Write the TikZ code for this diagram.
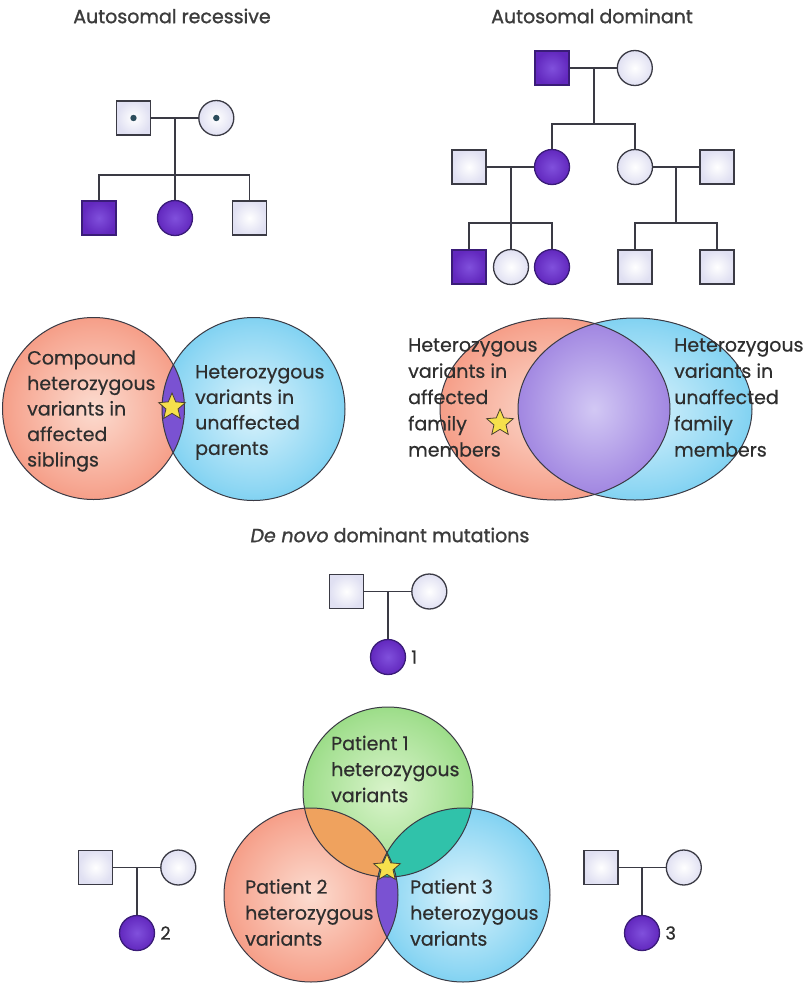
\documentclass[tikz,border=0pt]{standalone}
\usepackage{fontspec}
\setmainfont{Poppins}
\newfontfamily\headfont{Poppins}[FakeBold=1.2]
\newfontfamily\labelfont{Poppins}[FakeBold=0.5]
\usetikzlibrary{shapes.geometric, positioning}

\definecolor{linegray}{HTML}{3A3A44}
\definecolor{textgray}{HTML}{2E2E2E}
\definecolor{headgray}{HTML}{3C3C3C}
\definecolor{unaff}{HTML}{E0E0F2}
\definecolor{purplein}{HTML}{8050DC}
\definecolor{purpleout}{HTML}{6228BE}
\definecolor{purpledark}{HTML}{3A1C78}
\definecolor{dotteal}{HTML}{2C4C5C}
\definecolor{orangein}{HTML}{FCDCD0}
\definecolor{orangeout}{HTML}{EE5634}
\definecolor{bluein}{HTML}{DCF3FC}
\definecolor{blueout}{HTML}{18ACE6}
\definecolor{greenin}{HTML}{DAF4CC}
\definecolor{greenout}{HTML}{54C23A}
\definecolor{lensviolet}{HTML}{7A52D2}
\definecolor{lensin}{HTML}{D2C8F4}
\definecolor{orangegreen}{HTML}{EFA25E}
\definecolor{greenblue}{HTML}{30C2AA}
\definecolor{staryellow}{HTML}{F6E04C}
\definecolor{stardark}{HTML}{4A4030}

\pgfdeclareradialshading{orangeglow}{\pgfpoint{0bp}{0bp}}{color(0bp)=(orangein); color(22bp)=(orangein!60!orangeout); color(50bp)=(orangeout)}
\pgfdeclareradialshading{blueglow}{\pgfpoint{0bp}{0bp}}{color(0bp)=(bluein); color(22bp)=(bluein!60!blueout); color(50bp)=(blueout)}
\pgfdeclareradialshading{greenglow}{\pgfpoint{0bp}{0bp}}{color(0bp)=(greenin); color(22bp)=(greenin!60!greenout); color(50bp)=(greenout)}
\pgfdeclareradialshading{lensglow}{\pgfpoint{0bp}{0bp}}{color(0bp)=(lensin); color(45bp)=(lensviolet); color(50bp)=(lensviolet)}

\begin{document}
\begin{tikzpicture}[
    x=1pt, y=-1pt,
    node distance=47pt,
    male/.style={rectangle, draw=linegray, line width=1.3pt, minimum size=34pt, inner sep=0pt, inner color=white, outer color=unaff},
    female/.style={circle, draw=linegray, line width=1.3pt, minimum size=35pt, inner sep=0pt, inner color=white, outer color=unaff},
    affected/.style={draw=purpledark, inner color=purplein, outer color=purpleout},
    carrier/.style={path picture={\fill[dotteal] (path picture bounding box.center) circle[radius=3.2pt];}},
    pedline/.style={draw=linegray, line width=1.5pt},
    vennline/.style={draw=linegray, line width=1pt},
    heading/.style={font=\headfont\fontsize{19}{22}\selectfont, text=headgray, inner sep=0pt},
    venntext/.style={font=\labelfont\fontsize{19}{25.5}\selectfont, text=textgray, align=left, inner sep=0pt, anchor=west},
    childno/.style={font=\labelfont\fontsize{18}{20}\selectfont, text=textgray, inner sep=0pt},
    sparkle/.style={star, star points=5, star point ratio=2.2, minimum size=28pt, inner sep=0pt, fill=staryellow, draw=stardark, line width=0.8pt}
]
\fill[white] (0,0) rectangle (811,983);
\useasboundingbox (0,0) rectangle (811,983);

% Autosomal recessive
\node (artitle) [heading] at (172,16) {Autosomal recessive};
\node (arfather) [male, carrier] at (133.5,118) {};
\node (armother) [female, carrier, right=of arfather] {};
\node (arson1) [male, affected] at (99,218) {};
\node (ardaughter) [female, affected] at (175,218) {};
\node (arson2) [male] at (249.5,218) {};
\coordinate (armate) at (175,118);
\coordinate (arsibs) at (175,175);

\draw [pedline] (arfather) -- (armother);
\draw [pedline] (armate) -- (arsibs) -- (ardaughter);
\draw [pedline] (arson1.north) |- (arsibs) -| (arson2.north);

% Autosomal dominant
\node (adtitle) [heading] at (592,16) {Autosomal dominant};
\node (adgrandpa) [male, affected] at (552,68) {};
\node (adgrandma) [female, right=of adgrandpa] {};
\node (adhusband1) [male] at (469,167) {};
\node (addaughter1) [female, affected] at (552,167) {};
\node (addaughter2) [female] at (635,167) {};
\node (adhusband2) [male] at (717,167) {};
\node (adgson1) [male, affected] at (469,267) {};
\node (adgdaughter1) [female] at (511,267) {};
\node (adgdaughter2) [female, affected] at (552,267) {};
\node (adgson2) [male] at (635,267) {};
\node (adgson3) [male] at (717,267) {};
\coordinate (admate1) at (594,68);
\coordinate (adsibs1) at (594,124);
\coordinate (admate2) at (511,167);
\coordinate (adsibs2) at (511,223);
\coordinate (admate3) at (676,167);
\coordinate (adsibs3) at (676,223);

\draw [pedline] (adgrandpa) -- (adgrandma);
\draw [pedline] (admate1) -- (adsibs1);
\draw [pedline] (addaughter1.north) |- (adsibs1) -| (addaughter2.north);
\draw [pedline] (adhusband1) -- (addaughter1);
\draw [pedline] (admate2) -- (adsibs2) -- (adgdaughter1);
\draw [pedline] (adgson1.north) |- (adsibs2) -| (adgdaughter2.north);
\draw [pedline] (addaughter2) -- (adhusband2);
\draw [pedline] (admate3) -- (adsibs3);
\draw [pedline] (adgson2.north) |- (adsibs3) -| (adgson3.north);

% Venn, recessive
\shade[shading=orangeglow] (93.5,408.5) circle[radius=91];
\shade[shading=blueglow] (253.5,409) circle[radius=91.5];
\begin{scope}
  \clip (93.5,408.5) circle[radius=91];
  \fill[lensviolet] (253.5,409) circle[radius=91.5];
\end{scope}
\draw[vennline] (93.5,408.5) circle[radius=91];
\draw[vennline] (253.5,409) circle[radius=91.5];
\node (arleft) [venntext] at (27,411) {Compound\\heterozygous\\variants in\\affected\\siblings};
\node (arright) [venntext] at (195,412.5) {Heterozygous\\variants in\\unaffected\\parents};
\node (arstar) [sparkle] at (172,407) {};

% Venn, dominant
\shade[shading=orangeglow] (555,409) circle[x radius=115, y radius=91];
\shade[shading=blueglow] (635,409) circle[x radius=117, y radius=91];
\begin{scope}
  \clip (555,409) circle[x radius=115, y radius=91];
  \clip (635,409) circle[x radius=117, y radius=91];
  \shade[shading=lensglow] (518,324) rectangle (670,494);
\end{scope}
\draw[vennline] (555,409) circle[x radius=115, y radius=91];
\draw[vennline] (635,409) circle[x radius=117, y radius=91];
\node (adleft) [venntext, font=\labelfont\fontsize{19}{26.25}\selectfont] at (408,397.5) {Heterozygous\\variants in\\affected\\family\\members};
\node (adright) [venntext, font=\labelfont\fontsize{19}{26.25}\selectfont] at (674,397.5) {Heterozygous\\variants in\\unaffected\\family\\members};
\node (adstar) [sparkle] at (500,423) {};

% De novo
\node (dntitle) [heading] at (390,535) {\textit{De novo} dominant mutations};
\node (dnfather1) [male] at (346.5,591.5) {};
\node (dnmother1) [female, right=of dnfather1] {};
\node (dnchild1) [female, affected] at (388,657) {};
\node (dnno1) [childno, right=5pt of dnchild1] {1};
\coordinate (dnmate1) at (388,591.5);
\draw [pedline] (dnfather1) -- (dnmother1);
\draw [pedline] (dnmate1) -- (dnchild1);

\node (dnfather2) [male] at (95.5,867.5) {};
\node (dnmother2) [female, right=of dnfather2] {};
\node (dnchild2) [female, affected] at (137,933) {};
\node (dnno2) [childno, right=5pt of dnchild2] {2};
\coordinate (dnmate2) at (137,867.5);
\draw [pedline] (dnfather2) -- (dnmother2);
\draw [pedline] (dnmate2) -- (dnchild2);

\node (dnfather3) [male] at (601,867.5) {};
\node (dnmother3) [female, right=of dnfather3] {};
\node (dnchild3) [female, affected] at (642,933) {};
\node (dnno3) [childno, right=5pt of dnchild3] {3};
\coordinate (dnmate3) at (642,867.5);
\draw [pedline] (dnfather3) -- (dnmother3);
\draw [pedline] (dnmate3) -- (dnchild3);

% Venn, three patients
\shade[shading=greenglow] (388,792) circle[radius=85];
\shade[shading=orangeglow] (311,895) circle[radius=87];
\shade[shading=blueglow] (463,895) circle[radius=87];
\begin{scope}
  \clip (311,895) circle[radius=87];
  \fill[orangegreen] (388,792) circle[radius=85];
  \fill[lensviolet] (463,895) circle[radius=87];
\end{scope}
\begin{scope}
  \clip (388,792) circle[radius=85];
  \fill[greenblue] (463,895) circle[radius=87];
\end{scope}
\draw[vennline] (388,792) circle[radius=85];
\draw[vennline] (311,895) circle[radius=87];
\draw[vennline] (463,895) circle[radius=87];
\node (dntop) [venntext, font=\labelfont\fontsize{19}{26}\selectfont] at (331,769) {Patient 1\\heterozygous\\variants};
\node (dnleft) [venntext, font=\labelfont\fontsize{19}{26}\selectfont] at (245,912.5) {Patient 2\\heterozygous\\variants};
\node (dnright) [venntext, font=\labelfont\fontsize{19}{26}\selectfont] at (410,912.5) {Patient 3\\heterozygous\\variants};
\node (dnstar) [sparkle] at (387,868) {};

\end{tikzpicture}
\end{document}
